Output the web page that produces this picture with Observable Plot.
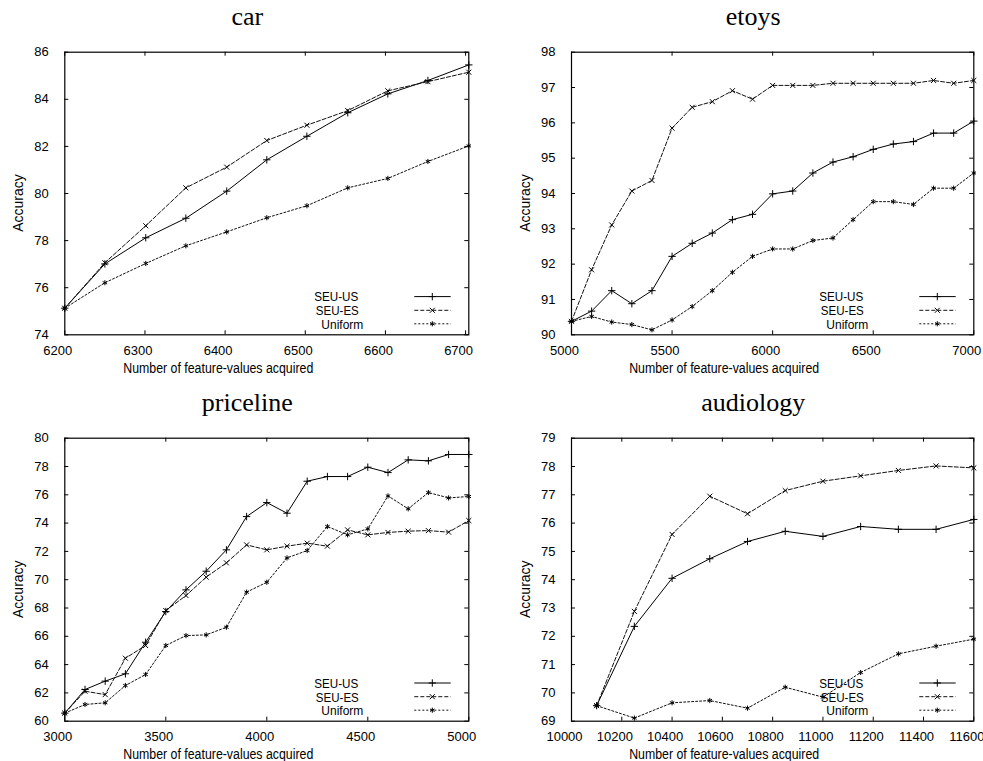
<!DOCTYPE html>
<html><head><meta charset="utf-8">
<script src="https://cdn.jsdelivr.net/npm/d3@7"></script>
<script src="https://cdn.jsdelivr.net/npm/@observablehq/plot@0.6"></script>
<style>
body{margin:0;background:#fff;}
#root{position:relative;width:983px;height:761px;overflow:hidden;background:#fff;}
#root svg{position:absolute;overflow:visible;}
</style></head><body><div id="root"></div>
<script>
const seriesNames = ["SEU-US", "SEU-ES", "Uniform"];
const xLabel = "Number of feature-values acquired";
const yLabel = "Accuracy";

// car
const carX = [6200, 6250, 6301, 6351, 6402, 6452, 6502, 6553, 6603, 6653, 6704];
const carUS = [75.13, 77.01, 78.12, 78.95, 80.10, 81.43, 82.43, 83.43, 84.23, 84.80, 85.46];
const carES = [75.13, 77.06, 78.63, 80.24, 81.12, 82.25, 82.90, 83.52, 84.36, 84.75, 85.15];
const carUniform = [75.13, 76.21, 77.03, 77.78, 78.37, 78.97, 79.48, 80.24, 80.64, 81.36, 82.02];
const carXTicks = [6200, 6300, 6400, 6500, 6600, 6700];
const carYTicks = [74, 76, 78, 80, 82, 84, 86];

// etoys
const etoysX = [5000, 5100, 5200, 5300, 5400, 5500, 5600, 5700, 5800, 5900, 6000, 6100, 6200, 6300, 6400, 6500, 6600, 6700, 6800, 6900, 7000];
const etoysUS = [90.38, 90.67, 91.25, 90.88, 91.25, 92.22, 92.59, 92.88, 93.26, 93.41, 93.99, 94.07, 94.58, 94.89, 95.04, 95.25, 95.40, 95.47, 95.71, 95.71, 96.05];
const etoysES = [90.38, 91.84, 93.11, 94.07, 94.37, 95.85, 96.44, 96.60, 96.91, 96.67, 97.06, 97.06, 97.06, 97.12, 97.12, 97.12, 97.12, 97.12, 97.20, 97.12, 97.20];
const etoysUniform = [90.38, 90.52, 90.36, 90.29, 90.14, 90.42, 90.80, 91.25, 91.77, 92.22, 92.43, 92.43, 92.67, 92.74, 93.26, 93.77, 93.77, 93.69, 94.15, 94.15, 94.58];
const etoysXTicks = [5000, 5500, 6000, 6500, 7000];
const etoysYTicks = [90, 91, 92, 93, 94, 95, 96, 97, 98];

// priceline
const pricelineX = [3000, 3100, 3200, 3300, 3400, 3500, 3600, 3700, 3800, 3900, 4000, 4100, 4200, 4300, 4400, 4500, 4600, 4700, 4800, 4900, 5000];
const pricelineUS = [60.57, 62.24, 62.83, 63.35, 65.58, 67.75, 69.28, 70.60, 72.11, 74.46, 75.45, 74.70, 76.96, 77.29, 77.29, 77.95, 77.57, 78.47, 78.40, 78.85, 78.85];
const pricelineES = [60.57, 62.12, 61.88, 64.45, 65.35, 67.82, 68.88, 70.18, 71.19, 72.46, 72.11, 72.37, 72.58, 72.37, 73.52, 73.17, 73.34, 73.43, 73.47, 73.36, 74.18];
const pricelineUniform = [60.57, 61.18, 61.30, 62.52, 63.30, 65.35, 66.05, 66.10, 66.64, 69.12, 69.82, 71.54, 72.06, 73.76, 73.17, 73.59, 75.92, 75.01, 76.16, 75.78, 75.88];
const pricelineXTicks = [3000, 3500, 4000, 4500, 5000];
const pricelineYTicks = [60, 62, 64, 66, 68, 70, 72, 74, 76, 78, 80];

// audiology
const audiologyX = [10100, 10250, 10400, 10550, 10700, 10850, 11000, 11150, 11300, 11450, 11600];
const audiologyUS = [69.55, 72.35, 74.05, 74.74, 75.35, 75.71, 75.53, 75.88, 75.78, 75.78, 76.13];
const audiologyES = [69.55, 72.88, 75.60, 76.95, 76.33, 77.15, 77.48, 77.67, 77.86, 78.02, 77.95];
const audiologyUniform = [69.55, 69.11, 69.65, 69.73, 69.46, 70.20, 69.85, 70.72, 71.38, 71.65, 71.90];
const audiologyXTicks = [10000, 10200, 10400, 10600, 10800, 11000, 11200, 11400, 11600];
const audiologyYTicks = [69, 70, 71, 72, 73, 74, 75, 76, 77, 78, 79];

const styles = [
  {dash: null, symbol: "plus", r: 2.5, stroke: "#000"},
  {dash: "4,2", symbol: "times", r: 2.4, stroke: "#111"},
  {dash: "2,2", symbol: "asterisk", r: 2.4, stroke: "#111"}
];

const panels = [
  {title: "car", left: 0, top: 0, width: 491, height: 380, mL: 64.3, mR: 22.7, mT: 51.7, mB: 45.7,
   xDomain: [6200, 6704], yDomain: [74, 86], xTicks: carXTicks, yTicks: carYTicks, x: carX, ys: [carUS, carES, carUniform]},
  {title: "etoys", left: 491, top: 0, width: 492, height: 380, mL: 80, mR: 9.7, mT: 51.7, mB: 45.7,
   xDomain: [5000, 7000], yDomain: [90, 98], xTicks: etoysXTicks, yTicks: etoysYTicks, x: etoysX, ys: [etoysUS, etoysES, etoysUniform]},
  {title: "priceline", left: 0, top: 380, width: 491, height: 381, mL: 64.3, mR: 22.7, mT: 57.7, mB: 40.3,
   xDomain: [3000, 5000], yDomain: [60, 80], xTicks: pricelineXTicks, yTicks: pricelineYTicks, x: pricelineX, ys: [pricelineUS, pricelineES, pricelineUniform]},
  {title: "audiology", left: 491, top: 380, width: 492, height: 381, mL: 80, mR: 9.7, mT: 57.7, mB: 40.3,
   xDomain: [10000, 11600], yDomain: [69, 79], xTicks: audiologyXTicks, yTicks: audiologyYTicks, x: audiologyX, ys: [audiologyUS, audiologyES, audiologyUniform]}
];

const root = document.getElementById("root");

for (const p of panels) {
  const innerW = p.width - p.mL - p.mR;
  const innerH = p.height - p.mT - p.mB;
  const seriesData = p.ys.map((vals, s) => vals.map((v, i) => ({series: seriesNames[s], x: p.x[i], y: v})));
  const marks = [];
  seriesData.forEach((d, s) => {
    marks.push(Plot.line(d, {x: "x", y: "y", stroke: styles[s].stroke, strokeWidth: 1, strokeDasharray: styles[s].dash}));
  });
  seriesData.forEach((d, s) => {
    marks.push(Plot.dot(d, {x: "x", y: "y", symbol: () => styles[s].symbol, r: styles[s].r, stroke: "#000", strokeWidth: 1, fill: "none"}));
  });
  marks.push(
    Plot.ruleX(p.xTicks, {x: d => d, insetTop: innerH - 4, stroke: "#000", strokeWidth: 1}),
    Plot.ruleX(p.xTicks, {x: d => d, insetBottom: innerH - 4, stroke: "#000", strokeWidth: 1}),
    Plot.ruleY(p.yTicks, {y: d => d, insetRight: innerW - 4, stroke: "#000", strokeWidth: 1}),
    Plot.ruleY(p.yTicks, {y: d => d, insetLeft: innerW - 4, stroke: "#000", strokeWidth: 1}),
    Plot.frame({stroke: "#000", strokeWidth: 1.2}),
    Plot.axisX(p.xTicks, {anchor: "bottom", tickSize: 0, tickPadding: 11, dx: -7, tickFormat: d => String(d), fontSize: 13, label: null}),
    Plot.axisY(p.yTicks, {anchor: "left", tickSize: 0, tickPadding: 16, tickFormat: d => String(d), fontSize: 13, label: null})
  );
  const chart = Plot.plot({
    width: p.width, height: p.height,
    marginLeft: p.mL, marginRight: p.mR, marginTop: p.mT, marginBottom: p.mB,
    x: {type: "linear", domain: p.xDomain},
    y: {type: "linear", domain: p.yDomain},
    symbol: {type: "identity"},
    style: {fontFamily: "'Liberation Sans', Arial, sans-serif", fontSize: "13px", color: "#000", background: "transparent", overflow: "visible"},
    marks
  });
  chart.style.left = p.left + "px";
  chart.style.top = p.top + "px";
  root.appendChild(chart);

  const svg = d3.select(chart);
  const cx = p.mL + innerW / 2;
  const cy = p.mT + innerH / 2;
  const R = p.width - p.mR;
  const B = p.height - p.mB;
  // title
  svg.append("text").attr("x", cx - 19).attr("y", p.mT - 26.5).attr("text-anchor", "middle")
    .attr("font-family", "'Liberation Serif', 'Times New Roman', serif").attr("font-size", 26).attr("fill", "#000").text(p.title);
  // y label
  svg.append("text").attr("transform", `translate(${p.mL - 41},${cy + 10}) rotate(-90)`).attr("text-anchor", "middle")
    .attr("font-family", "'Liberation Sans', Arial, sans-serif").attr("font-size", 14).attr("fill", "#000").text(yLabel);
  // x label
  svg.append("text").attr("x", cx - 48).attr("y", B + 38.5).attr("text-anchor", "middle")
    .attr("font-family", "'Liberation Sans', Arial, sans-serif").attr("font-size", 14).attr("fill", "#000")
    .attr("textLength", 190).attr("lengthAdjust", "spacingAndGlyphs").text(xLabel);
  // legend
  const rowDy = [-37.7, -24, -10.5];
  const textDx = [-132, -131, -126];
  const textLen = [44, 43, 42];
  const lg = svg.append("g");
  seriesNames.forEach((name, s) => {
    const yy = B + rowDy[s];
    lg.append("text").attr("x", R + textDx[s]).attr("y", yy + 4.8)
      .attr("font-family", "'Liberation Sans', Arial, sans-serif").attr("font-size", 13.5).attr("fill", "#000")
      .attr("textLength", textLen[s]).attr("lengthAdjust", "spacingAndGlyphs").text(name);
    lg.append("line").attr("x1", R - 54).attr("x2", R - 17.6).attr("y1", yy).attr("y2", yy)
      .attr("stroke", styles[s].stroke).attr("stroke-width", 1).attr("stroke-dasharray", styles[s].dash);
    const sym = d3.symbol().type({plus: d3.symbolPlus, times: d3.symbolTimes, asterisk: d3.symbolAsterisk}[styles[s].symbol]).size(Math.PI * styles[s].r * styles[s].r);
    lg.append("path").attr("d", sym()).attr("transform", `translate(${R - 36},${yy})`).attr("fill", "none").attr("stroke", "#000").attr("stroke-width", 1);
  });
}
</script></body></html>
